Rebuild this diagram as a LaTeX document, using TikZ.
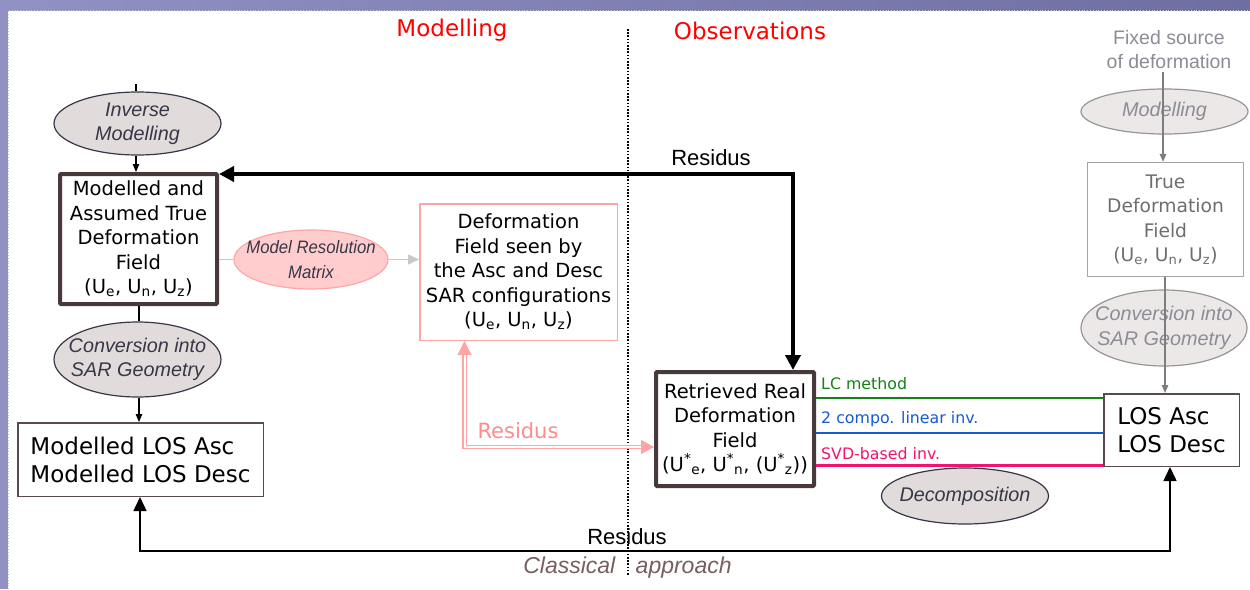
\documentclass[tikz,border=0pt]{standalone}
\usepackage{fontspec}
\setmainfont{DejaVu Sans}
\newfontfamily\arial{Liberation Sans}
\newfontfamily\arialn[FakeStretch=0.93]{Liberation Sans}
\usetikzlibrary{shapes.geometric,arrows.meta,calc}
\definecolor{frameL}{RGB}{145,145,195}
\definecolor{frameR}{RGB}{110,110,160}
\definecolor{boxbrown}{RGB}{72,58,58}
\definecolor{thinbrown}{RGB}{90,75,75}
\definecolor{ellfill}{RGB}{226,219,219}
\definecolor{elltxt}{RGB}{55,55,72}
\definecolor{pinkfill}{RGB}{255,205,205}
\definecolor{pinkline}{RGB}{255,165,165}
\definecolor{pinktxt}{RGB}{255,140,140}
\definecolor{lgray}{RGB}{200,200,200}
\definecolor{gtxt}{RGB}{140,140,150}
\definecolor{gline}{RGB}{125,125,125}
\definecolor{gbox}{RGB}{165,165,165}
\definecolor{gboxtxt}{RGB}{110,110,110}
\definecolor{gfill}{RGB}{236,232,232}
\definecolor{gellline}{RGB}{150,150,150}
\definecolor{lcgreen}{RGB}{20,130,20}
\definecolor{lcblue}{RGB}{25,90,210}
\definecolor{lcmag}{RGB}{240,20,110}
\definecolor{titlered}{RGB}{255,0,0}
\definecolor{classic}{RGB}{120,95,95}
\tikzset{
  thickbox/.style={draw=boxbrown, line width=4pt, rounded corners=1pt, fill=white, align=center, inner sep=0pt, font=\fontsize{19.5}{24.5}\selectfont},
  thinbox/.style={draw=thinbrown, line width=1.5pt, fill=white, inner sep=0pt, font=\fontsize{23}{28}\selectfont},
  ellshape/.style={ellipse, draw=elltxt, line width=1.2pt, fill=ellfill, inner sep=0pt},
  elltext/.style={align=center, inner sep=0pt, text=elltxt, font=\arial\itshape\fontsize{19.8}{24.5}\selectfont},
  gellshape/.style={ellipse, draw=gellline, line width=1.2pt, fill=gfill, inner sep=0pt},
  gelltext/.style={align=center, inner sep=0pt, text=gtxt, font=\arial\itshape\fontsize{19.8}{24.5}\selectfont},
  smalltip/.style={-{Triangle[length=8pt,width=6.5pt]}},
  restxt/.style={inner sep=0pt, font=\arial\fontsize{22}{26}\selectfont},
  methtxt/.style={anchor=west, inner sep=0pt, font=\fontsize{15.8}{18}\selectfont},
}
\begin{document}
\begin{tikzpicture}[x=1pt,y=-1pt]
\useasboundingbox (0,0) rectangle (1250,589);
\fill[white] (0,0) rectangle (1250,589);
% frame
\shade[left color=frameL, right color=frameR] (0,0) rectangle (1250,10);
\fill[frameL] (0,0) rectangle (8,589);
\draw[lgray, dotted, line width=0.8pt] (8,589) -- (8,10.5) -- (1250,10.5);

% titles
\node[inner sep=0pt, text=titlered, font=\fontsize{23}{28}\selectfont] (tmod) at (452,30) {Modelling};
\node[inner sep=0pt, text=titlered, font=\fontsize{23}{28}\selectfont] (tobs) at (750,31) {Observations};

% divider
\coordinate (dtop) at (628,29);
\coordinate (dbot) at (628,576);
\draw[line width=1.6pt, dash pattern=on 1.6pt off 1.6pt] (dtop) -- (dbot);

% left column
\node[ellshape, minimum width=167pt, minimum height=63pt] (inv) at (137.5,123.5) {};
\node[elltext] (invt) at (inv.center) {Inverse\\Modelling};
\coordinate (invtop) at (136,84);
\draw[line width=1.2pt] (invtop) -- (invtop |- inv.north);

\node[thickbox, minimum width=157pt, minimum height=130pt] (mod) at (138.5,239) {Modelled and\\Assumed True\\Deformation\\Field\\(U\textsubscript{e}, U\textsubscript{n}, U\textsubscript{z})};
\draw[line width=1.2pt, smalltip] (invtop |- inv.south) -- (invtop |- mod.north);

\node[ellshape, minimum width=167pt, minimum height=75pt] (convl) at (137.5,359.5) {};
\node[elltext] (convlt) at (convl.center) {Conversion into\\SAR Geometry};
\coordinate (cvx) at (139,0);
\draw[line width=1.2pt] (cvx |- mod.south) -- (cvx |- convl.north);

\node[thinbox, minimum width=245.5pt, minimum height=73.5pt, align=left] (mlos) at (140.5,459.5) {Modelled LOS Asc\\Modelled LOS Desc};
\draw[line width=1.2pt, smalltip] (cvx |- convl.south) -- (cvx |- mlos.north);

% model resolution
\node[ellipse, draw=pinkline, line width=1.2pt, fill=pinkfill, inner sep=0pt, minimum width=154pt, minimum height=59pt] (mrm) at (311,259.5) {};
\node[align=center, inner sep=0pt, text=elltxt, font=\arialn\itshape\fontsize{18}{24.5}\selectfont] (mrmt) at (mrm.center) {Model Resolution\\Matrix};

\node[draw=pinkline, line width=1.5pt, fill=white, align=center, inner sep=0pt, minimum width=197.5pt, minimum height=136.5pt, font=\fontsize{19.5}{24.5}\selectfont] (dfs) at (518.5,272) {Deformation\\Field seen by\\the Asc and Desc\\SAR configurations\\(U\textsubscript{e}, U\textsubscript{n}, U\textsubscript{z})};

\draw[lgray, line width=1.5pt] (mod.east |- mrm.west) -- (mrm.west);
\draw[lgray, line width=1.5pt, -{Triangle[length=11pt,width=10pt]}] (mrm.east) -- (mrm.east -| dfs.west);

% retrieved
\node[thickbox, minimum width=158pt, minimum height=114pt] (ret) at (735,429) {Retrieved Real\\Deformation\\Field\\(U\textsuperscript{*}\textsubscript{e}, U\textsuperscript{*}\textsubscript{n}, (U\textsuperscript{*}\textsubscript{z}))};

% thick residus arrow
\coordinate (rc) at (793,174);
\draw[line width=4pt, {Triangle[length=15pt,width=15pt]}-{Triangle[length=15pt,width=15pt]}] (rc -| mod.east) -- (rc) -- (rc |- ret.north);
\node[restxt] (res1) at (711,158) {Residus};

% pink residus arrow
\coordinate (pc) at (464.5,447);
\draw[draw=pinkline, double=white, double distance=2pt, line width=1.3pt, {Triangle[length=14pt,width=14pt]}-{Triangle[length=13pt,width=14pt]}] (pc |- dfs.south) -- (pc) -- (pc -| ret.west);
\node[inner sep=0pt, text=pinktxt, font=\fontsize{21}{25}\selectfont] (res2) at (518,431) {Residus};

% right column
\node[inner sep=0pt, align=center, text=gtxt, font=\arial\fontsize{19.5}{24}\selectfont] (fixed) at (1169,50) {Fixed source\\of deformation};
\node[gellshape, minimum width=167pt, minimum height=45pt] (modr) at (1164.5,111.5) {};
\node[gelltext] (modrt) at (modr.center) {Modelling};
\node[draw=gbox, line width=1.3pt, fill=white, align=center, inner sep=0pt, minimum width=156pt, minimum height=114pt, text=gboxtxt, font=\fontsize{18.7}{24.5}\selectfont] (true) at (1165.5,219.5) {True\\Deformation\\Field\\(U\textsubscript{e}, U\textsubscript{n}, U\textsubscript{z})};
\coordinate (fx) at (1163,72);
\draw[gline, line width=1.3pt, smalltip] (fx) -- (fx |- true.north);

\node[gellshape, minimum width=166pt, minimum height=76pt] (convr) at (1164,328) {};
\node[gelltext] (convrt) at (convr.center) {Conversion into\\SAR Geometry};

\node[thinbox, minimum width=135.5pt, minimum height=72.5pt, align=left] (los) at (1171.5,430) {LOS Asc\\LOS Desc};
\coordinate (tx) at (1165,0);
\draw[gline, line width=1.3pt, smalltip] (tx |- true.south) -- (tx |- los.north);

% decomposition lines
\coordinate (yg) at (0,398);
\coordinate (yb) at (0,433);
\coordinate (ym) at (0,465.5);
\draw[lcgreen, line width=2.2pt] (yg -| ret.east) -- (yg -| los.west);
\draw[lcblue, line width=2.2pt] (yb -| ret.east) -- (yb -| los.west);
\draw[lcmag, line width=2.2pt] (ym -| ret.east) -- (ym -| los.west);
\node[methtxt, text=lcgreen] (lc) at (821,384) {LC method};
\node[methtxt, text=lcblue] (lin) at (821,419) {2 compo. linear inv.};
\node[methtxt, text=lcmag] (svd) at (821,454) {SVD-based inv.};

\node[ellshape, minimum width=167pt, minimum height=56pt] (dec) at (965,496) {};
\node[elltext] (dect) at (dec.center) {Decomposition};

% bottom residus
\coordinate (bc) at (140,551);
\coordinate (bd) at (1170,551);
\draw[line width=1.5pt, {Triangle[length=14pt,width=13pt]}-{Triangle[length=14pt,width=13pt]}] (bc |- mlos.south) -- (bc) -- (bd) -- (bd |- los.south);
\node[restxt] (res3) at (627,537) {Residus};
\node[inner sep=0pt, text=classic, font=\arial\itshape\fontsize{23}{28}\selectfont] (classical) at (627.5,568) {Classical \hspace{14pt}approach};
\end{tikzpicture}
\end{document}
